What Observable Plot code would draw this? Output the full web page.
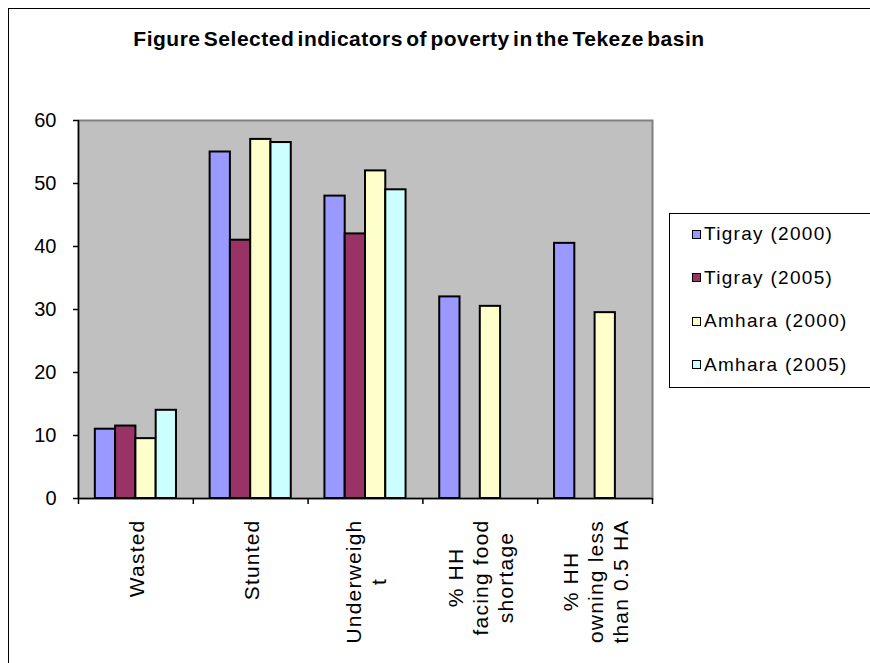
<!DOCTYPE html>
<html>
<head>
<meta charset="utf-8">
<script src="https://cdn.jsdelivr.net/npm/d3@7"></script>
<script src="https://cdn.jsdelivr.net/npm/@observablehq/plot@0.6"></script>
<style>
  body { margin: 0; background: #fff; font-family: "Liberation Sans", Arial, sans-serif; overflow: hidden; }
  #wrap { position: relative; width: 870px; height: 663px; overflow: hidden; background: #fff; }
  #border { position: absolute; left: 8px; top: 8px; width: 900px; height: 700px;
            border-left: 1px solid #000; border-top: 1px solid #000; pointer-events: none; }
  #title { height: 88px; box-sizing: border-box; padding-top: 27px; width: 838px;
           font-size: 21px; line-height: 24px; font-weight: bold; text-align: center;
           letter-spacing: 0.5px; word-spacing: -3px; color: #000; }
  #legend { position: absolute; left: 669px; top: 213px; width: 210px; height: 173px;
            border: 1px solid #000; background: #fff; }
  .entry { position: absolute; left: 22px; height: 24px; display: flex; align-items: center;
           font-size: 19px; letter-spacing: 1.3px; color: #000; white-space: nowrap; }
  .swatch { width: 7px; height: 7px; border: 1.5px solid #000; margin-right: 3px; }
  .xlab { letter-spacing: 1.2px; }
  svg { display: block; }
</style>
</head>
<body>
<div id="wrap">
  <div id="title">Figure Selected indicators of poverty in the Tekeze basin</div>
  <div id="chart"></div>
  <div id="legend"></div>
  <div id="border"></div>
</div>
<script>
// Indicator categories and their wrapped axis labels
const categories = ["Wasted", "Stunted", "Underweight", "% HH facing food shortage", "% HH owning less than 0.5 HA"];
const tickLabels = ["Wasted", "Stunted", "Underweigh\nt", "% HH\nfacing food\nshortage", "% HH\nowning less\nthan 0.5 HA"];

// Series (region and survey year)
const seriesNames = ["Tigray (2000)", "Tigray (2005)", "Amhara (2000)", "Amhara (2005)"];
const seriesColors = ["#9999ff", "#993366", "#ffffcc", "#ccffff"];

// Values per series, in category order (null = not reported)
const tigray2000 = [11, 55, 48, 32, 40.5];
const tigray2005 = [11.5, 41, 42, null, null];
const amhara2000 = [9.5, 57, 52, 30.5, 29.5];
const amhara2005 = [14, 56.5, 49, null, null];

const yTicks = [0, 10, 20, 30, 40, 50, 60];

const seriesValues = [tigray2000, tigray2005, amhara2000, amhara2005];

// Clustered layout: gap between clusters relative to one bar width
const gapRatio = 1.66;
const slots = seriesNames.length + gapRatio;

const rows = [];
seriesValues.forEach((vals, si) => {
  vals.forEach((v, ci) => {
    if (v == null) return;
    const x1 = ci + (gapRatio / 2 + si) / slots;
    rows.push({category: categories[ci], series: seriesNames[si], value: v, x1, x2: x1 + 1 / slots});
  });
});

const chart = Plot.plot({
  width: 870,
  height: 575,
  marginLeft: 78,
  marginRight: 218,
  marginTop: 32,
  marginBottom: 165,
  style: {fontFamily: "'Liberation Sans', Arial, sans-serif", background: "transparent", color: "#000"},
  x: {domain: [0, categories.length], axis: null},
  y: {domain: [0, 60], axis: null},
  color: {domain: seriesNames, range: seriesColors},
  marks: [
    Plot.frame({fill: "#c0c0c0", stroke: "#808080", strokeWidth: 2}),
    Plot.rect(rows, {x1: "x1", x2: "x2", y1: 0, y2: "value", fill: "series", stroke: "#000", strokeWidth: 2}),
    Plot.ruleX([0], {stroke: "#000", strokeWidth: 1.5}),
    Plot.ruleY([0], {stroke: "#000", strokeWidth: 1.5}),
    Plot.axisY({ticks: yTicks, label: null, tickSize: 5, tickPadding: 17, fontSize: 20, strokeWidth: 1.5}),
    Plot.axisX({ticks: d3.range(0, categories.length + 1), label: null, tickSize: 6, tickFormat: () => "", strokeWidth: 1.5}),
    Plot.text(tickLabels, {
      x: (d, i) => i + 0.5,
      frameAnchor: "bottom",
      dy: 21,
      rotate: -90,
      textAnchor: "middle",
      lineAnchor: "middle",
      lineHeight: 1.19,
      fontSize: 21,
      fill: "#000",
      className: "xlab"
    })
  ]
});

document.getElementById("chart").append(chart);

// Top-align each rotated label block while keeping its lines centred
d3.select(chart).selectAll(".xlab text").each(function () {
  const w = this.getBBox().width;
  const t = this.getAttribute("transform") || "";
  this.setAttribute("transform", `${t} translate(${-w / 2},0)`);
});

// Legend
const legend = d3.select("#legend");
seriesNames.forEach((name, i) => {
  const e = legend.append("div").attr("class", "entry").style("top", `${8 + i * 43.5}px`);
  e.append("div").attr("class", "swatch").style("background", seriesColors[i]);
  e.append("span").text(name);
});
</script>
</body>
</html>
